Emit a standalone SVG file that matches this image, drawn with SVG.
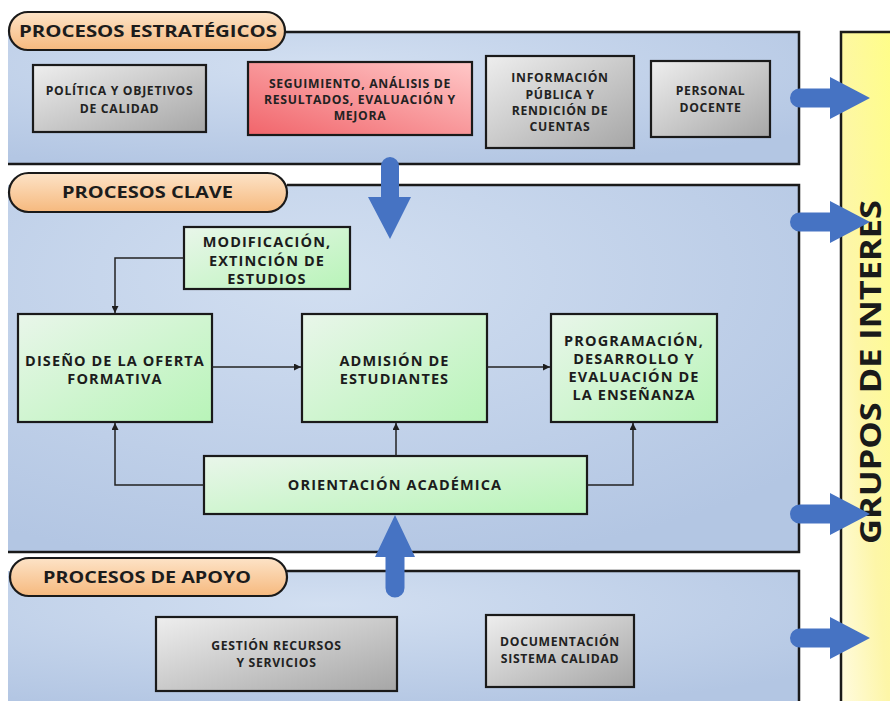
<svg xmlns="http://www.w3.org/2000/svg" width="890" height="701" viewBox="0 0 890 701">
<defs>
<radialGradient id="gBlue" cx="0.4" cy="0.25" r="0.8">
<stop offset="0" stop-color="#d2dff1"/>
<stop offset="1" stop-color="#b3c6e3"/>
</radialGradient>
<linearGradient id="gYellow" x1="1" y1="0" x2="0" y2="1">
<stop offset="0" stop-color="#ffff84"/>
<stop offset="0.6" stop-color="#fdf6a8"/>
<stop offset="1" stop-color="#fffbe0"/>
</linearGradient>
<linearGradient id="gGray" x1="0" y1="0" x2="1" y2="1">
<stop offset="0" stop-color="#eeeeee"/>
<stop offset="1" stop-color="#a6a6a6"/>
</linearGradient>
<linearGradient id="gGreen" x1="0" y1="0" x2="1" y2="1">
<stop offset="0" stop-color="#e9f6ea"/>
<stop offset="1" stop-color="#b8f4b8"/>
</linearGradient>
<linearGradient id="gRed" x1="0" y1="1" x2="1" y2="0">
<stop offset="0" stop-color="#f1656b"/>
<stop offset="1" stop-color="#ffc8c8"/>
</linearGradient>
<linearGradient id="gPeach" x1="0" y1="0" x2="0" y2="1">
<stop offset="0" stop-color="#fde3c7"/>
<stop offset="1" stop-color="#f6b97e"/>
</linearGradient>
<marker id="ah" viewBox="0 0 10 10" refX="10" refY="5" markerWidth="7" markerHeight="7" markerUnits="userSpaceOnUse" orient="auto">
<path d="M0,0 L10,5 L0,10 Z" fill="#1e1e1e"/>
</marker>
<style>
.panel{fill:url(#gBlue);}
.edge{stroke:#1a1a1a;stroke-width:2.5;fill:none;}
.pill{fill:url(#gPeach);stroke:#1a1a1a;stroke-width:2.2;}
.ptitle{font-family:"Open Sans","Liberation Sans",sans-serif;font-weight:700;font-size:16px;fill:#1c1c1c;}
.box{stroke:#1a1a1a;stroke-width:2.2;}
.gray{fill:url(#gGray);}
.green{fill:url(#gGreen);}
.red{fill:url(#gRed);}
.t{font-family:"Open Sans","Liberation Sans",sans-serif;font-weight:700;font-size:12.2px;letter-spacing:0.7px;fill:#222;text-anchor:middle;}
.tb{font-family:"Open Sans","Liberation Sans",sans-serif;font-weight:700;font-size:14.5px;letter-spacing:1.1px;fill:#1c1c1c;text-anchor:middle;}
.conn{stroke:#222;stroke-width:1.5;fill:none;}
.big{fill:#4673c3;}
</style>
</defs>
<rect width="890" height="701" fill="#ffffff"/>

<g id="panel-estrategicos">
<rect class="panel" x="8" y="32" width="791" height="132"/>
<path class="edge" d="M285,32 H799 V164 H8"/>
<rect class="pill" x="9" y="12" width="276" height="38" rx="19"/>
<text class="ptitle" x="19" y="37" textLength="258" lengthAdjust="spacingAndGlyphs">PROCESOS ESTRATÉGICOS</text>
</g>

<g id="panel-clave">
<rect class="panel" x="8" y="185" width="791" height="367"/>
<path class="edge" d="M287,185 H799 V552 H8"/>
<rect class="pill" x="9" y="173" width="278" height="39" rx="19.5"/>
<text class="ptitle" x="62" y="198" textLength="171" lengthAdjust="spacingAndGlyphs">PROCESOS CLAVE</text>
</g>

<g id="panel-apoyo">
<rect class="panel" x="8" y="571" width="791" height="135"/>
<path class="edge" d="M287,571 H799 V705"/>
<rect class="pill" x="10" y="558" width="277" height="38" rx="19"/>
<text class="ptitle" x="43" y="583" textLength="208" lengthAdjust="spacingAndGlyphs">PROCESOS DE APOYO</text>
</g>

<g id="grupos-interes">
<rect x="841" y="32" width="60" height="680" fill="url(#gYellow)"/>
<path class="edge" d="M890,32 H841 V705"/>
<text transform="translate(881,544) rotate(-90)" x="0" y="0" font-family="Open Sans, Liberation Sans, sans-serif" font-weight="700" font-size="29" fill="#1a1a1a" textLength="344" lengthAdjust="spacingAndGlyphs">GRUPOS DE INTERES</text>
</g>

<g id="politica">
<rect class="box gray" x="33" y="65" width="173" height="67"/>
<text class="t" x="119.5" y="95">POLÍTICA Y OBJETIVOS</text>
<text class="t" x="119.5" y="113">DE CALIDAD</text>
</g>
<g id="seguimiento">
<rect class="box red" x="248" y="62" width="224" height="73"/>
<text class="t" x="360" y="88">SEGUIMIENTO, ANÁLISIS DE</text>
<text class="t" x="360" y="104">RESULTADOS, EVALUACIÓN Y</text>
<text class="t" x="360" y="120">MEJORA</text>
</g>
<g id="informacion">
<rect class="box gray" x="486" y="56" width="148" height="92"/>
<text class="t" x="560" y="82">INFORMACIÓN</text>
<text class="t" x="560" y="99">PÚBLICA Y</text>
<text class="t" x="560" y="115">RENDICIÓN DE</text>
<text class="t" x="560" y="131">CUENTAS</text>
</g>
<g id="personal">
<rect class="box gray" x="651" y="61" width="119" height="76"/>
<text class="t" x="710.5" y="95">PERSONAL</text>
<text class="t" x="710.5" y="112">DOCENTE</text>
</g>

<g id="modificacion">
<rect class="box green" x="184" y="227" width="166" height="62"/>
<text class="tb" x="267" y="247">MODIFICACIÓN,</text>
<text class="tb" x="267" y="266">EXTINCIÓN DE</text>
<text class="tb" x="267" y="284">ESTUDIOS</text>
</g>
<g id="diseno">
<rect class="box green" x="18" y="314" width="194" height="108"/>
<text class="tb" x="115" y="366">DISEÑO DE LA OFERTA</text>
<text class="tb" x="115" y="384">FORMATIVA</text>
</g>
<g id="admision">
<rect class="box green" x="302" y="314" width="185" height="108"/>
<text class="tb" x="394.5" y="366">ADMISIÓN DE</text>
<text class="tb" x="394.5" y="384">ESTUDIANTES</text>
</g>
<g id="programacion">
<rect class="box green" x="551" y="314" width="166" height="108"/>
<text class="tb" x="634" y="346">PROGRAMACIÓN,</text>
<text class="tb" x="634" y="364">DESARROLLO Y</text>
<text class="tb" x="634" y="382">EVALUACIÓN DE</text>
<text class="tb" x="634" y="400">LA ENSEÑANZA</text>
</g>
<g id="orientacion">
<rect class="box green" x="204" y="456" width="383" height="58"/>
<text class="tb" x="395" y="490">ORIENTACIÓN ACADÉMICA</text>
</g>

<g id="gestion">
<rect class="box gray" x="156" y="617" width="241" height="74"/>
<text class="t" x="276.5" y="650">GESTIÓN RECURSOS</text>
<text class="t" x="276.5" y="667">Y SERVICIOS</text>
</g>
<g id="documentacion">
<rect class="box gray" x="486" y="615" width="148" height="72"/>
<text class="t" x="560" y="646">DOCUMENTACIÓN</text>
<text class="t" x="560" y="663">SISTEMA CALIDAD</text>
</g>

<g id="connectors">
<path class="conn" d="M184,258 H115 V313" marker-end="url(#ah)"/>
<path class="conn" d="M212,367 H301" marker-end="url(#ah)"/>
<path class="conn" d="M487,367 H550" marker-end="url(#ah)"/>
<path class="conn" d="M204,485 H115 V423" marker-end="url(#ah)"/>
<path class="conn" d="M396,456 V423" marker-end="url(#ah)"/>
<path class="conn" d="M587,485 H633 V423" marker-end="url(#ah)"/>
</g>

<g id="flow-arrows">
<path class="big" d="M381,166 A9,9 0 0 1 399,166 L399,197 L411,197 L390,239 L368,197 L381,197 Z"/>
<path class="big" d="M395,515 L415,557 L404.5,557 L404.5,588 A9.5,9.5 0 0 1 385.5,588 L385.5,557 L375,557 Z"/>
<path class="big" d="M799.5,88.5 L830,88.5 L830,77 L870,98 L830,119 L830,107.5 L799.5,107.5 A9.5,9.5 0 0 1 799.5,88.5 Z"/>
<path class="big" d="M799.5,212.5 L830,212.5 L830,201 L870,222 L830,243 L830,231.5 L799.5,231.5 A9.5,9.5 0 0 1 799.5,212.5 Z"/>
<path class="big" d="M799.5,504.5 L830,504.5 L830,493 L870,514 L830,535 L830,523.5 L799.5,523.5 A9.5,9.5 0 0 1 799.5,504.5 Z"/>
<path class="big" d="M799.5,628.5 L830,628.5 L830,617 L870,638 L830,659 L830,647.5 L799.5,647.5 A9.5,9.5 0 0 1 799.5,628.5 Z"/>
</g>
</svg>
